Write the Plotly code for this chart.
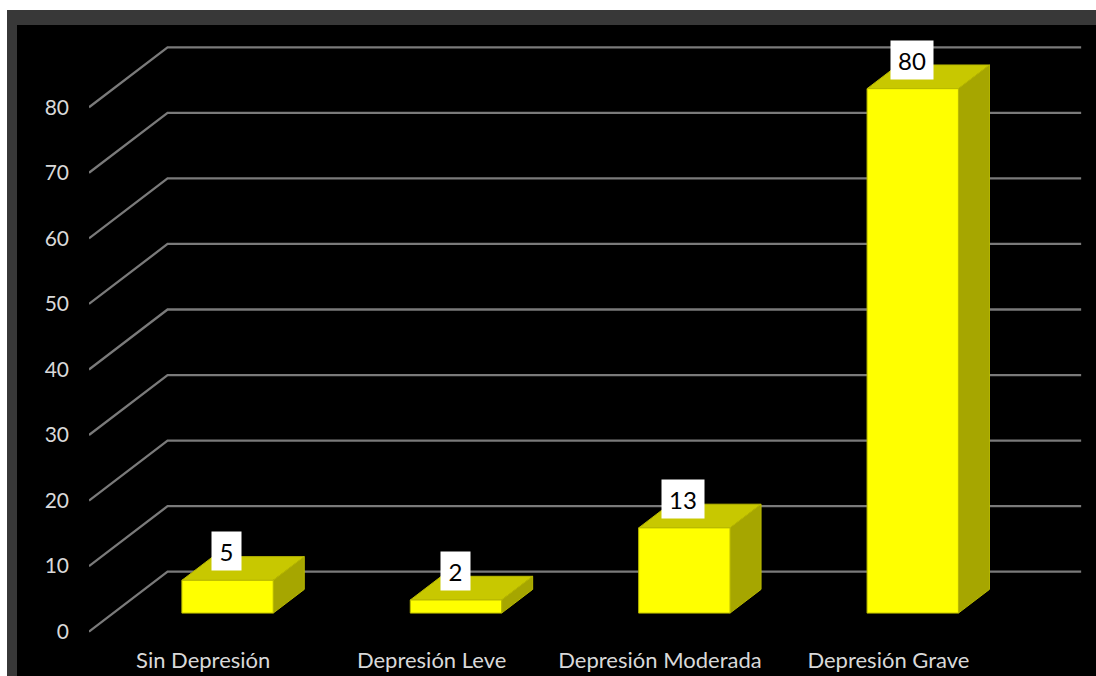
import plotly.graph_objects as go

# ---- data ----
categories = ["Sin Depresión", "Depresión Leve", "Depresión Moderada", "Depresión Grave"]
values = [5, 2, 13, 80]
y_ticks = [0, 10, 20, 30, 40, 50, 60, 70, 80]

# ---- geometry / style (oblique 3D projection in axis units) ----
W, H = 1096, 676
ML, MR, MT, MB = 89, 0, 25, 31
X_RANGE = [-0.5, 3.909]
Y_RANGE = [-2.03, 92.55]
DX, DY = 0.344, 9.15        # offset of the back wall (depth = 1)
D0, DD = 0.31, 0.395        # bar front depth and bar depth
BW = 0.40                   # bar width
FONT = "Lato"
TXT = "#d9d9d9"
GRID = "#7a7a7a"
FRONT, TOP, SIDE, EDGE = "#ffff00", "#c8c800", "#a6a600", "#b8b800"

fig = go.Figure()

# pseudo-3D gridlines: front-left corner -> back-left -> back-right
n = len(categories)
for v in y_ticks:
    fig.add_trace(go.Scatter(
        x=[-0.5, -0.5 + DX, n - 0.5 + DX],
        y=[v, v + DY, v + DY],
        mode="lines", line=dict(color=GRID, width=2.3),
        hoverinfo="skip", showlegend=False))

# 3D bars
for i, v in enumerate(values):
    x0 = i + D0 * DX - BW / 2
    x1 = x0 + BW
    yb = D0 * DY
    yt = v + D0 * DY
    ox, oy = DD * DX, DD * DY
    faces = [
        ([x0, x1, x1 + ox, x0 + ox, x0], [yt, yt, yt + oy, yt + oy, yt], TOP),
        ([x1, x1 + ox, x1 + ox, x1, x1], [yb, yb + oy, yt + oy, yt, yb], SIDE),
        ([x0, x1, x1, x0, x0], [yb, yb, yt, yt, yb], FRONT),
    ]
    for fx, fy, col in faces:
        fig.add_trace(go.Scatter(
            x=fx, y=fy, mode="lines", fill="toself", fillcolor=col,
            line=dict(color=EDGE, width=1), hoverinfo="skip", showlegend=False))
    fig.add_annotation(
        x=i + D0 * DX - 0.004, y=yt, xref="x", yref="y",
        text=str(v), showarrow=False, yanchor="bottom", yshift=9,
        font=dict(family=FONT, size=24, color="#000000"),
        bgcolor="#ffffff", borderpad=0,
        width=16 + 13 * len(str(v)), height=38)

# background frame (pixel -> paper)
pw, ph = W - ML - MR, H - MT - MB
def px(xp):
    return (xp - ML) / pw
def py(yp):
    return (H - MB - yp) / ph

fig.add_shape(type="rect", xref="paper", yref="paper", layer="below",
              x0=px(7), x1=px(W + 5), y0=py(10), y1=py(H + 5),
              fillcolor="#383838", line=dict(width=0))
fig.add_shape(type="rect", xref="paper", yref="paper", layer="below",
              x0=px(17), x1=px(W + 5), y0=py(25), y1=py(H + 5),
              fillcolor="#000000", line=dict(width=0))

fig.update_layout(
    width=W, height=H,
    margin=dict(l=ML, r=MR, t=MT, b=MB, pad=0),
    paper_bgcolor="#ffffff", plot_bgcolor="#000000",
    showlegend=False, hovermode=False,
    font=dict(family=FONT, size=21, color=TXT),
)
fig.update_xaxes(
    range=X_RANGE, tickmode="array", tickvals=list(range(n)), ticktext=categories,
    showgrid=False, zeroline=False, showline=False, ticks="",
    tickfont=dict(family=FONT, size=22, color=TXT), ticklabelstandoff=0,
    fixedrange=True)
fig.update_yaxes(
    range=Y_RANGE, tickmode="array", tickvals=y_ticks,
    showgrid=False, zeroline=False, showline=False, ticks="",
    tickfont=dict(family=FONT, size=21, color=TXT), ticklabelstandoff=19,
    fixedrange=True)

fig.write_html("out.html", config={"displayModeBar": False},
               post_script="document.body.style.margin='0';")
